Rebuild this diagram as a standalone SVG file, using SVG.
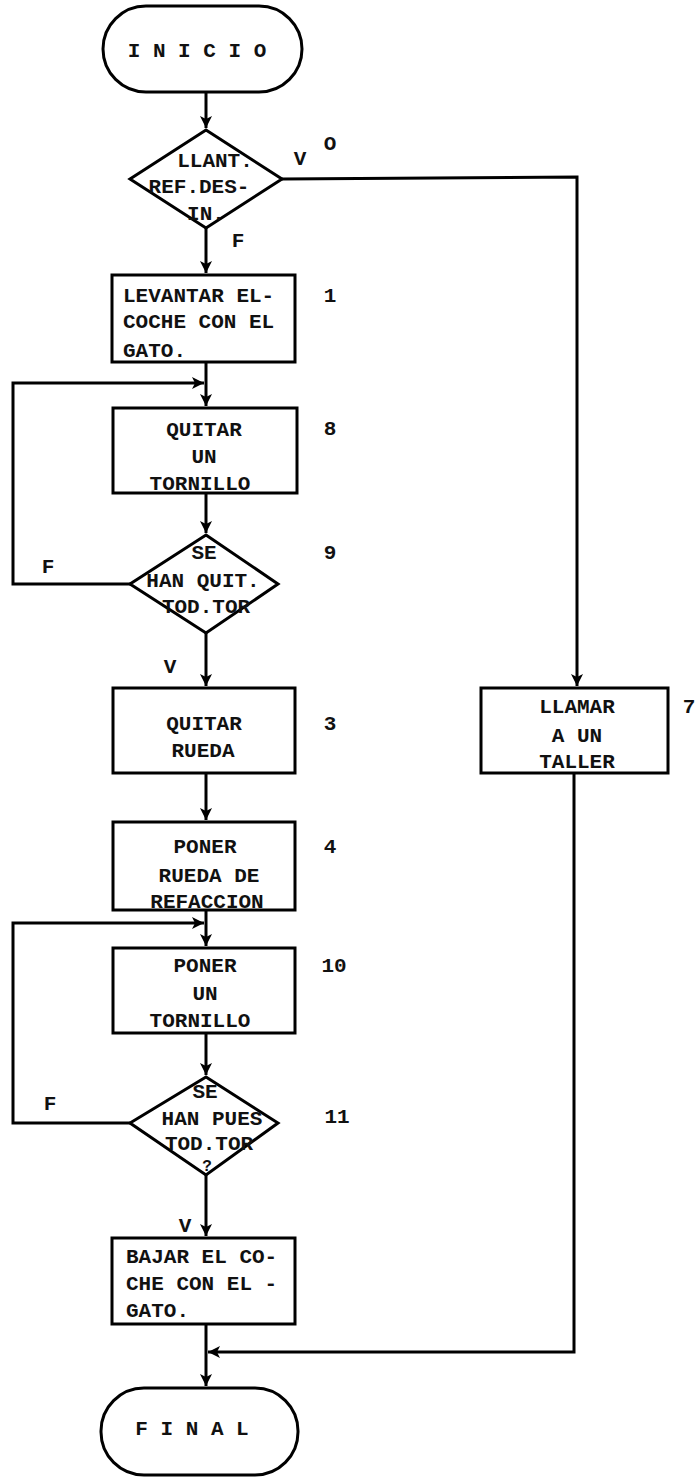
<svg xmlns="http://www.w3.org/2000/svg" width="696" height="1480" viewBox="0 0 696 1480">
<style>
.s{fill:#fff;stroke:#000;stroke-width:3}
.c{fill:none;stroke:#000;stroke-width:3}
text{font-family:"Liberation Mono","Courier New",monospace;font-size:21px;font-weight:bold;fill:#111}
.m{text-anchor:middle}
</style>
<defs>
<marker id="ah" markerUnits="userSpaceOnUse" markerWidth="14" markerHeight="14" refX="12" refY="6" orient="auto">
<path d="M0,0 L12,6 L0,12 L3,6 z" fill="#000"/>
</marker>
</defs>
<rect width="696" height="1480" fill="#fff"/>
<g id="connectors">
<path class="c" d="M206,92 V128" marker-end="url(#ah)"/>
<path class="c" d="M206,228 V273" marker-end="url(#ah)"/>
<path class="c" d="M282,179 L577,177 V686" marker-end="url(#ah)"/>
<path class="c" d="M206,362 V406" marker-end="url(#ah)"/>
<path class="c" d="M206,493 V533" marker-end="url(#ah)"/>
<path class="c" d="M130,584 H13 V383 H204" marker-end="url(#ah)"/>
<path class="c" d="M206,633 V686" marker-end="url(#ah)"/>
<path class="c" d="M206,773 V820" marker-end="url(#ah)"/>
<path class="c" d="M206,910 V946" marker-end="url(#ah)"/>
<path class="c" d="M130,1123 H13 V923 H204" marker-end="url(#ah)"/>
<path class="c" d="M206,1033 V1075" marker-end="url(#ah)"/>
<path class="c" d="M206,1175 V1236" marker-end="url(#ah)"/>
<path class="c" d="M206,1324 V1386" marker-end="url(#ah)"/>
<path class="c" d="M574,773 V1352 H208" marker-end="url(#ah)"/>
</g>
<g id="inicio">
<rect class="s" x="103" y="6" width="199" height="86" rx="43"/>
<text class="m" x="197" y="57">I N I C I O</text>
</g>
<g id="d_llanta">
<polygon class="s" points="206,130 282,179 206,228 130,179"/>
<text class="m" x="215" y="167">LLANT.</text>
<text class="m" x="199" y="193">REF.DES-</text>
<text class="m" x="206" y="220">IN.</text>
<text class="m" x="300" y="165">V</text>
<text class="m" x="330" y="150">O</text>
<text class="m" x="238" y="247">F</text>
</g>
<g id="p_levantar">
<rect class="s" x="112" y="275" width="183" height="87"/>
<text x="123" y="302">LEVANTAR EL-</text>
<text x="123" y="328">COCHE CON EL</text>
<text x="123" y="357">GATO.</text>
<text class="m" x="330" y="302">1</text>
</g>
<g id="p_quitar_tornillo">
<rect class="s" x="113" y="408" width="184" height="85"/>
<text class="m" x="204" y="436">QUITAR</text>
<text class="m" x="204" y="463">UN</text>
<text class="m" x="200" y="490">TORNILLO</text>
<text class="m" x="330" y="435">8</text>
</g>
<g id="d_quitados">
<polygon class="s" points="206,535 278,584 206,633 130,584"/>
<text class="m" x="204" y="559">SE</text>
<text class="m" x="203" y="587">HAN QUIT.</text>
<text class="m" x="206" y="613">TOD.TOR</text>
<text class="m" x="330" y="559">9</text>
<text class="m" x="48" y="573">F</text>
<text class="m" x="170" y="673">V</text>
</g>
<g id="p_quitar_rueda">
<rect class="s" x="113" y="688" width="182" height="85"/>
<text class="m" x="204" y="730">QUITAR</text>
<text class="m" x="203" y="757">RUEDA</text>
<text class="m" x="330" y="730">3</text>
</g>
<g id="p_poner_rueda">
<rect class="s" x="113" y="822" width="182" height="88"/>
<text class="m" x="205" y="853">PONER</text>
<text class="m" x="209" y="882">RUEDA DE</text>
<text class="m" x="207" y="908">REFACCION</text>
<text class="m" x="330" y="853">4</text>
</g>
<g id="p_poner_tornillo">
<rect class="s" x="113" y="948" width="182" height="85"/>
<text class="m" x="205" y="972">PONER</text>
<text class="m" x="205" y="1000">UN</text>
<text class="m" x="200" y="1027">TORNILLO</text>
<text class="m" x="334" y="972">10</text>
</g>
<g id="d_puestos">
<polygon class="s" points="206,1077 278,1123 206,1175 130,1123"/>
<text class="m" x="205" y="1098">SE</text>
<text class="m" x="212" y="1125">HAN PUES</text>
<text class="m" x="209" y="1150">TOD.TOR</text>
<text class="m" x="207" y="1171" style="font-size:16px">?</text>
<text class="m" x="337" y="1123">11</text>
<text class="m" x="50" y="1110">F</text>
<text class="m" x="185" y="1232">V</text>
</g>
<g id="p_bajar">
<rect class="s" x="112" y="1238" width="183" height="86"/>
<text x="126" y="1263">BAJAR EL CO-</text>
<text x="126" y="1290">CHE CON EL -</text>
<text x="126" y="1317">GATO.</text>
</g>
<g id="p_llamar">
<rect class="s" x="481" y="688" width="187" height="85"/>
<text class="m" x="577" y="713">LLAMAR</text>
<text class="m" x="577" y="742">A UN</text>
<text class="m" x="577" y="768">TALLER</text>
<text class="m" x="689" y="713">7</text>
</g>
<g id="final">
<rect class="s" x="101" y="1388" width="197" height="87" rx="43"/>
<text class="m" x="192" y="1435">F I N A L</text>
</g>
</svg>
